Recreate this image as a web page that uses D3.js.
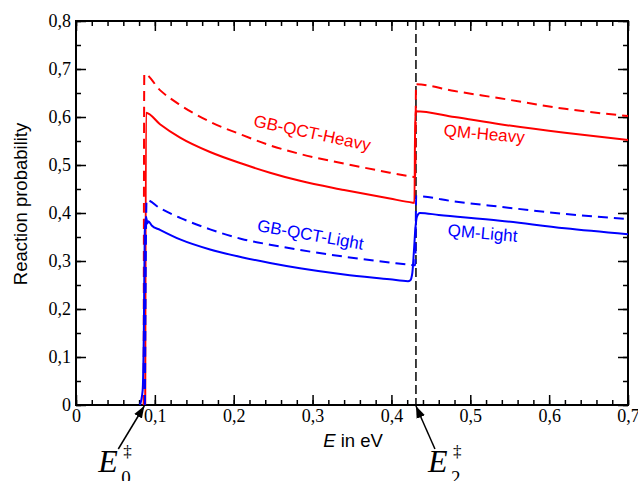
<!DOCTYPE html>
<html>
<head>
<meta charset="utf-8">
<script src="https://cdn.jsdelivr.net/npm/d3@7"></script>
<style>
  body { margin: 0; background: #fff; }
  svg { display: block; }
  .tick text { font-family: "Liberation Serif", "Times New Roman", serif; font-size: 18px; fill: #000; }
  .tick line { stroke: #000; stroke-width: 1.5; }
  .lbl { font-family: "Liberation Sans", Arial, sans-serif; font-size: 17px; }
  .title { font-family: "Liberation Sans", Arial, sans-serif; font-size: 18.5px; }
  .math { font-family: "Liberation Serif", "Times New Roman", serif; }
</style>
</head>
<body>
<svg id="chart" width="638" height="481"></svg>
<script>
// thresholds (eV)
const E0 = 0.0866;
const E2 = 0.4311;

// [E in eV, reaction probability]
const heavyDashed = [
  [0.0858, 0], [0.0866, 0.690], [0.1065, 0.656], [0.132, 0.625], [0.170, 0.590],
  [0.210, 0.563], [0.246, 0.541], [0.284, 0.523], [0.340, 0.503], [0.398, 0.484],
  [0.421, 0.477], [0.4302, 0.475], [0.4312, 0.668], [0.480, 0.654], [0.5377, 0.639],
  [0.620, 0.617], [0.700, 0.602]
];
const heavySolid = [
  [0.0878, 0], [0.0888, 0.609], [0.1065, 0.585], [0.132, 0.557], [0.170, 0.527],
  [0.210, 0.503], [0.246, 0.484], [0.284, 0.467], [0.340, 0.448], [0.398, 0.430],
  [0.427, 0.4215], [0.4292, 0.421], [0.4302, 0.612], [0.480, 0.600], [0.5377, 0.585],
  [0.620, 0.567], [0.700, 0.552]
];
const lightDashed = [
  [0.0874, 0], [0.0895, 0.427], [0.1065, 0.410], [0.132, 0.390], [0.170, 0.366],
  [0.210, 0.346], [0.246, 0.334], [0.284, 0.323], [0.340, 0.309], [0.398, 0.297],
  [0.4235, 0.292], [0.4302, 0.291], [0.4314, 0.435], [0.480, 0.424], [0.5377, 0.413],
  [0.620, 0.398], [0.700, 0.3875]
];
const lightSolid = [
  [0.081, 0], [0.0845, 0.03], [0.086, 0.15], [0.0872, 0.36], [0.0888, 0.392],
  [0.0905, 0.378], [0.0917, 0.383], [0.096, 0.374], [0.1065, 0.365], [0.132, 0.345],
  [0.170, 0.324], [0.210, 0.308], [0.246, 0.296], [0.284, 0.285], [0.340, 0.272],
  [0.398, 0.262], [0.421, 0.258], [0.424, 0.260], [0.4265, 0.275], [0.4285, 0.32],
  [0.4305, 0.37], [0.4325, 0.393], [0.436, 0.400], [0.460, 0.396], [0.5377, 0.384],
  [0.620, 0.368], [0.700, 0.3556]
];

const xTicks = [0, 0.1, 0.2, 0.3, 0.4, 0.5, 0.6, 0.7];
const xTickLabels = ['0', '0,1', '0,2', '0,3', '0,4', '0,5', '0,6', '0,7'];
const yTicks = [0, 0.1, 0.2, 0.3, 0.4, 0.5, 0.6, 0.7, 0.8];
const yTickLabels = ['0', '0,1', '0,2', '0,3', '0,4', '0,5', '0,6', '0,7', '0,8'];

const seriesLabels = [
  { text: 'GB-QCT-Heavy', color: '#ff0000', x: 0.298, y: 0.555, rot: 12 },
  { text: 'QM-Heavy', color: '#ff0000', x: 0.517, y: 0.553, rot: 5 },
  { text: 'GB-QCT-Light', color: '#0000ff', x: 0.296, y: 0.343, rot: 10 },
  { text: 'QM-Light', color: '#0000ff', x: 0.515, y: 0.346, rot: 5 }
];

const svg = d3.select('#chart');
const L = 76, R = 628, T = 21, B = 405;
const x = d3.scaleLinear().domain([0, 0.7]).range([L, R]);
const y = d3.scaleLinear().domain([0, 0.8]).range([B, T]);

const xMinor = d3.range(0, 0.7001, 0.02);
const yMinor = d3.range(0, 0.8001, 0.05);

// minor ticks
svg.append('g').attr('transform', `translate(0,${B})`)
  .call(d3.axisBottom(x).tickValues(xMinor).tickSize(-5).tickFormat('').tickSizeOuter(0));
svg.append('g').attr('transform', `translate(0,${T})`)
  .call(d3.axisTop(x).tickValues(xMinor).tickSize(-5).tickFormat('').tickSizeOuter(0));
svg.append('g').attr('transform', `translate(${L},0)`)
  .call(d3.axisLeft(y).tickValues(yMinor).tickSize(-5).tickFormat('').tickSizeOuter(0));
svg.append('g').attr('transform', `translate(${R},0)`)
  .call(d3.axisRight(y).tickValues(yMinor).tickSize(-5).tickFormat('').tickSizeOuter(0));

// major ticks + labels
svg.append('g').attr('transform', `translate(0,${B})`)
  .call(d3.axisBottom(x).tickValues(xTicks).tickSize(-10).tickPadding(4)
    .tickFormat((d, i) => xTickLabels[i]).tickSizeOuter(0));
svg.append('g').attr('transform', `translate(${L},0)`)
  .call(d3.axisLeft(y).tickValues(yTicks).tickSize(-10).tickPadding(5)
    .tickFormat((d, i) => yTickLabels[i]).tickSizeOuter(0));
svg.append('g').attr('transform', `translate(0,${T})`)
  .call(d3.axisTop(x).tickValues(xTicks).tickSize(-10).tickFormat('').tickSizeOuter(0));
svg.append('g').attr('transform', `translate(${R},0)`)
  .call(d3.axisRight(y).tickValues(yTicks).tickSize(-10).tickFormat('').tickSizeOuter(0));
svg.selectAll('.domain').remove();

// frame
svg.append('rect').attr('x', L).attr('y', T).attr('width', R - L).attr('height', B - T)
  .attr('fill', 'none').attr('stroke', '#000').attr('stroke-width', 2);

// threshold E2 marker line
svg.append('line')
  .attr('x1', x(E2)).attr('x2', x(E2)).attr('y1', y(0.8)).attr('y2', y(0))
  .attr('stroke', '#000').attr('stroke-width', 1.5).attr('stroke-dasharray', '9,4');

const line = d3.line().x((d) => x(d[0])).y((d) => y(d[1])).curve(d3.curveMonotoneX);

const series = [
  { data: heavyDashed, color: '#ff0000', dash: '10,6' },
  { data: heavySolid, color: '#ff0000', dash: null },
  { data: lightDashed, color: '#0000ff', dash: '10,6' },
  { data: lightSolid, color: '#0000ff', dash: null }
];
svg.append('g').selectAll('path').data(series).join('path')
  .attr('d', (d) => line(d.data))
  .attr('fill', 'none')
  .attr('stroke', (d) => d.color)
  .attr('stroke-width', 2)
  .attr('stroke-dasharray', (d) => d.dash);

svg.append('g').selectAll('text').data(seriesLabels).join('text')
  .attr('class', 'lbl')
  .attr('text-anchor', 'middle')
  .attr('fill', (d) => d.color)
  .attr('transform', (d) => `translate(${x(d.x)},${y(d.y)}) rotate(${d.rot})`)
  .text((d) => d.text);

// axis titles
svg.append('text').attr('class', 'title').attr('text-anchor', 'middle')
  .attr('transform', `translate(27,${(T + B) / 2 - 9}) rotate(-90)`)
  .text('Reaction probability');
const xt = svg.append('text').attr('class', 'title').attr('text-anchor', 'middle')
  .attr('x', 353).attr('y', 447);
xt.append('tspan').attr('font-style', 'italic').text('E');
xt.append('tspan').text(' in eV');

// arrows to thresholds
svg.append('defs').append('marker').attr('id', 'ah')
  .attr('viewBox', '0 -5 12 10').attr('refX', 12).attr('refY', 0)
  .attr('markerWidth', 12).attr('markerHeight', 10).attr('markerUnits', 'userSpaceOnUse')
  .attr('orient', 'auto')
  .append('path').attr('d', 'M0,-4.5L12,0L0,4.5Z').attr('fill', '#000');

const arrows = [
  { e: E0, dx: -26, sub: '0', tx: -46 },
  { e: E2, dx: 19, sub: '2', tx: 12 }
];
arrows.forEach((a) => {
  const tx = x(a.e), ty = y(0) + 1;
  svg.append('line')
    .attr('x1', tx + a.dx).attr('y1', ty + 43).attr('x2', tx).attr('y2', ty)
    .attr('stroke', '#000').attr('stroke-width', 1.5).attr('marker-end', 'url(#ah)');
  const bx = tx + a.tx;
  svg.append('text').attr('class', 'math').attr('font-style', 'italic')
    .attr('font-size', 32).attr('x', bx).attr('y', 472).text('E');
  svg.append('text').attr('class', 'math').attr('font-size', 19)
    .attr('x', bx + 23).attr('y', 484).text(a.sub);
  svg.append('text').attr('class', 'math').attr('font-size', 17)
    .attr('x', bx + 25).attr('y', 457).text('\u2021');
});
</script>
</body>
</html>
